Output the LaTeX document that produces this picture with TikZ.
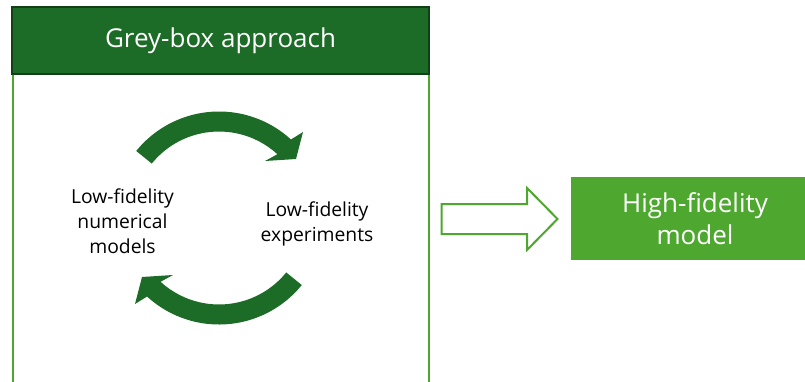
\documentclass[tikz,border=0pt]{standalone}
\usepackage{fontspec}
\setmainfont{Open Sans}
\usetikzlibrary{positioning}
\definecolor{verdescuro}{HTML}{1C6B26}
\definecolor{verdechiaro}{HTML}{4EA72E}

\begin{document}
\begin{tikzpicture}[x=1pt, y=-1pt,
        every node/.style={inner sep=0pt, align=center},
        titlebar/.style={fill=verdescuro, draw=verdescuro!60!black, line width=1.2pt, text=white, font=\fontsize{26}{31}\selectfont},
        midtext/.style={text=black, font=\fontsize{19.3}{25}\selectfont},
        highbox/.style={fill=verdechiaro, text=white, font=\fontsize{26}{32}\selectfont}]
        \useasboundingbox (0,0) rectangle (805,381);
        \fill[white] (0,0) rectangle (805,381);
        \clip (0,0) rectangle (805,381);

        % Riquadro grey-box
        \draw[verdechiaro, line width=2pt] (12.5,74) rectangle (428.5,400);
        \node (title) [titlebar, minimum width=417, minimum height=67] at (220.5,40.5) {Grey-box approach};

        % Frecce circolari
        \foreach \ang in {0,180}
        {
            \begin{scope}[shift={(219,218)}, rotate=\ang]
                \fill[verdescuro] (-141:106.5) arc[start angle=-141, end angle=-47.5, radius=106.5]
                    -- (84,-86) -- (77,-59) -- (46,-57) -- (-47.5:86.5)
                    arc[start angle=-47.5, end angle=-141, radius=86.5] -- cycle;
            \end{scope}
        }

        % Testi
        \node (lowmodels) [midtext] at (122.5,221) {Low-fidelity\\numerical\\models};
        \node (lowexp) [midtext] at (317,224) {Low-fidelity\\experiments};

        % Modello finale
        \node (highmodel) [highbox, minimum width=248, minimum height=83.5] at (695,218.5) {High-fidelity\\model};

        % Freccia vuota
        \draw[verdechiaro, line width=2pt, line join=miter]
            (441.5,204) -- (527,204) -- (527,188) -- (557.5,219) -- (527,250) -- (527,234) -- (441.5,234) -- cycle;
    \end{tikzpicture}
\end{document}
